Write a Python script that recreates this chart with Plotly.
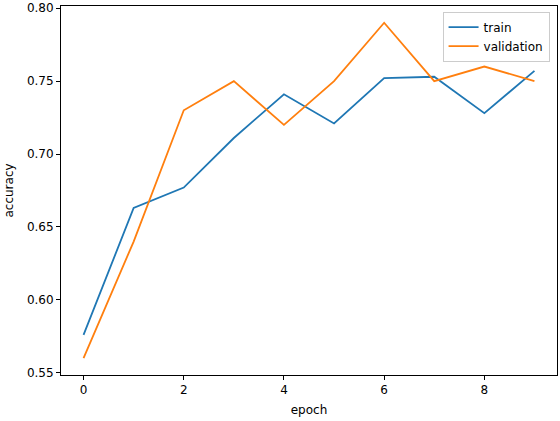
import plotly.graph_objects as go

epochs = list(range(10))
train_acc = [0.576, 0.663, 0.677, 0.711, 0.741, 0.721, 0.752, 0.753, 0.728, 0.757]
val_acc = [0.560, 0.640, 0.730, 0.750, 0.720, 0.750, 0.790, 0.750, 0.760, 0.750]

fig = go.Figure()
fig.add_trace(go.Scatter(x=epochs, y=train_acc, mode='lines', name='train',
                         line=dict(color='#1f77b4', width=1.8)))
fig.add_trace(go.Scatter(x=epochs, y=val_acc, mode='lines', name='validation',
                         line=dict(color='#ff7f0e', width=1.8)))

axis_style = dict(showline=True, linecolor='black', linewidth=1, mirror=True,
                  showgrid=False, zeroline=False, ticks='outside', ticklen=4,
                  tickcolor='black', tickfont=dict(size=12, color='black'),
                  automargin=False)

fig.update_xaxes(range=[-0.45, 9.45], tickvals=[0, 2, 4, 6, 8],
                 title=dict(text='epoch', font=dict(size=12, color='black'), standoff=9),
                 **axis_style)
fig.update_yaxes(range=[0.5485, 0.8015], tickvals=[0.55, 0.60, 0.65, 0.70, 0.75, 0.80],
                 tickformat='.2f',
                 title=dict(text='accuracy', font=dict(size=12, color='black'), standoff=10),
                 **axis_style)

fig.update_layout(
    width=560, height=421,
    margin=dict(l=61, r=3, t=6, b=46),
    plot_bgcolor='white', paper_bgcolor='white',
    font=dict(family='DejaVu Sans', size=12, color='black'),
    legend=dict(x=0.985, y=0.985, xanchor='right', yanchor='top',
                bordercolor='#cccccc', borderwidth=1, bgcolor='rgba(255,255,255,0.8)',
                font=dict(size=12), tracegroupgap=0),
)

# drop the default body margin so the figure sits at the window corner
fig.write_html("out.html", config={'displayModeBar': False},
               post_script="document.body.style.margin='0px';")
